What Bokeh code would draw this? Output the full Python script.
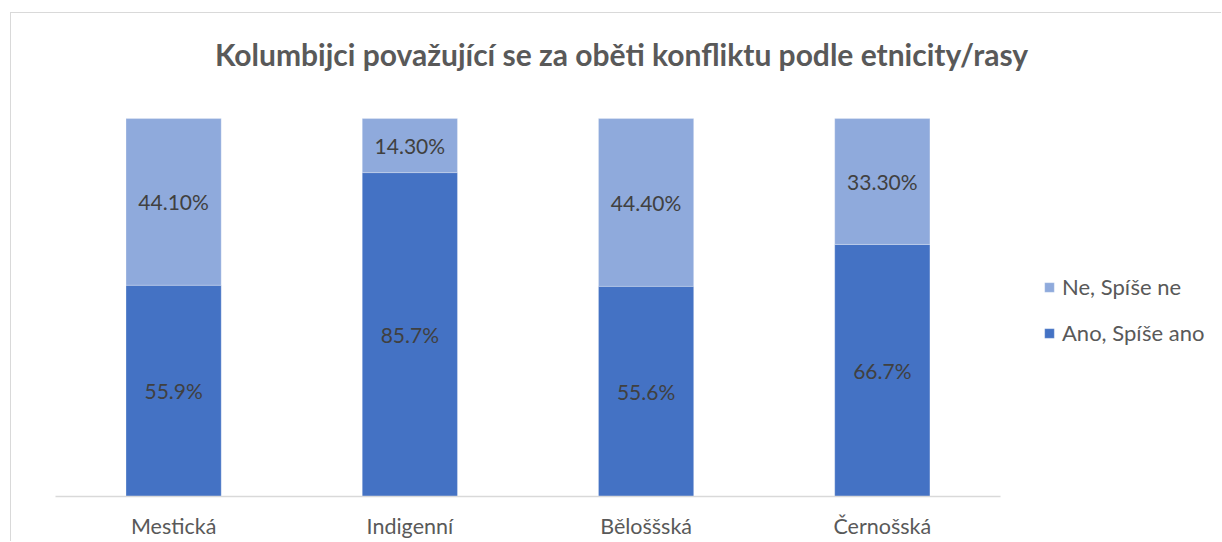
from bokeh.plotting import figure
from bokeh.models import Range1d, Legend, LegendItem, ColumnDataSource, FixedTicker, Label
from bokeh.core.properties import value
from bokeh.embed import file_html
from bokeh.resources import INLINE

title_text = "Kolumbijci považující se za oběti konfliktu podle etnicity/rasy"
categories = ["Mestická", "Indigenní", "Běloššská", "Černošská"]
ano = [55.9, 85.7, 55.6, 66.7]
ne = [44.1, 14.3, 44.4, 33.3]
series_names = ["Ano, Spíše ano", "Ne, Spíše ne"]
colors = ["#4472C4", "#8FAADC"]

FONT = "Lato"
xs = list(range(len(categories)))

src = ColumnDataSource(dict(
    x=xs,
    ano=ano,
    ne=ne,
    ano_mid=[a / 2 for a in ano],
    ne_mid=[a + n / 2 for a, n in zip(ano, ne)],
    ano_lbl=[f"{a:.1f}%" for a in ano],
    ne_lbl=[f"{n:.2f}%" for n in ne],
))

W, H = 1211, 529
p = figure(x_range=Range1d(-0.5, 4.44), y_range=Range1d(0, 127.8),
           width=W, height=H, output_backend="svg", toolbar_location=None,
           min_border_left=44, min_border_right=0,
           min_border_top=0, min_border_bottom=46)
p.outline_line_color = None
p.xgrid.grid_line_color = None
p.ygrid.grid_line_color = None
p.yaxis.visible = False

r = p.vbar_stack(["ano", "ne"], x="x", width=0.403, source=src,
                 color=colors, line_color="#FFFFFF", line_width=0.5, line_alpha=0.5)

p.text(x="x", y="ano_mid", text="ano_lbl", source=src, text_align="center",
       text_baseline="middle", text_color="#404040", text_font_size="21px",
       text_font=value(FONT))
p.text(x="x", y="ne_mid", text="ne_lbl", source=src, text_align="center",
       text_baseline="middle", text_color="#404040", text_font_size="21px",
       text_font=value(FONT))

ax = p.xaxis[0]
ax.ticker = FixedTicker(ticks=xs)
ax.major_label_overrides = {i: c for i, c in zip(xs, categories)}
ax.bounds = (-0.5, len(categories) - 0.5)
ax.axis_line_color = "#D9D9D9"
ax.axis_line_width = 1.5
ax.major_tick_line_color = None
ax.minor_tick_line_color = None
ax.major_label_standoff = 10
ax.major_label_text_font = FONT
ax.major_label_text_font_size = "21.5px"
ax.major_label_text_color = "#595959"

legend = Legend(items=[LegendItem(label=series_names[1], renderers=[r[1]]),
                       LegendItem(label=series_names[0], renderers=[r[0]])],
                location=(988, 150), padding=0, margin=0, spacing=19,
                glyph_width=12, glyph_height=12, label_standoff=7,
                label_text_font=FONT, label_text_font_size="22px",
                label_text_color="#595959", border_line_color=None,
                background_fill_alpha=0)
p.add_layout(legend, "center")

title = Label(x=566, y=443, x_units="screen", y_units="screen", text=title_text,
              text_align="center", text_baseline="middle", text_font=FONT,
              text_font_style="bold", text_font_size="30px", text_color="#595959")
p.add_layout(title)

p.styles = {"border-top": "1px solid #D9D9D9", "border-left": "1px solid #D9D9D9",
            "margin-top": "12px", "margin-left": "10px"}

open("out.html", "w").write(file_html(p, INLINE))
